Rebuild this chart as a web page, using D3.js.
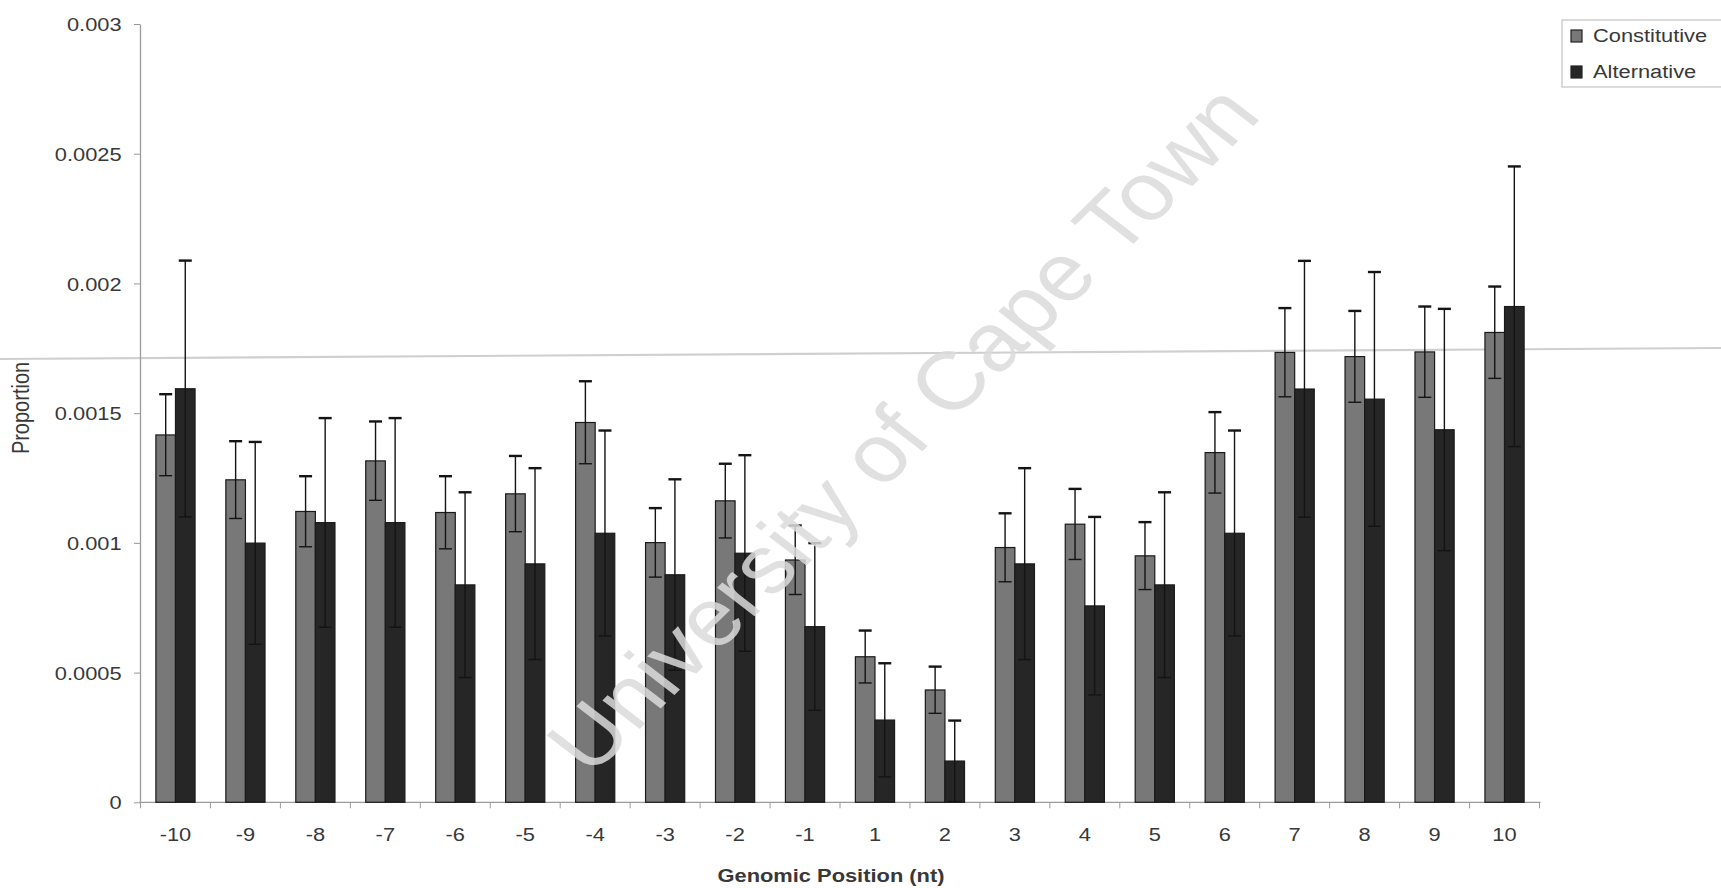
<!DOCTYPE html>
<html>
<head>
<meta charset="utf-8">
<script src="https://cdn.jsdelivr.net/npm/d3@7/dist/d3.min.js"></script>
<style>
  html, body { margin: 0; padding: 0; background: #fff; }
  svg { display: block; }
  text { font-family: "Liberation Sans", Arial, sans-serif; }
</style>
</head>
<body>
<svg id="chart" width="1721" height="888"></svg>
<script>
// Proportion of splice-site variants by genomic position (nt)
const categories = ["-10","-9","-8","-7","-6","-5","-4","-3","-2","-1","1","2","3","4","5","6","7","8","9","10"];
const seriesNames = ["Constitutive", "Alternative"];

const constitutive = [0.001416,0.001243,0.001121,0.001316,0.001117,0.001189,0.001464,0.001001,0.001162,0.000934,
                      0.000561,0.000433,0.000982,0.001072,0.000950,0.001348,0.001734,0.001718,0.001736,0.001811];
const constitutiveErr = [0.000157,0.000149,0.000136,0.000152,0.000140,0.000146,0.000159,0.000133,0.000143,0.000133,
                         0.000101,0.000090,0.000132,0.000136,0.000130,0.000156,0.000171,0.000176,0.000175,0.000177];
const alternative = [0.001594,0.000999,0.001078,0.001078,0.000838,0.000919,0.001037,0.000877,0.000960,0.000677,
                     0.000317,0.000159,0.000919,0.000757,0.000838,0.001037,0.001593,0.001554,0.001436,0.001911];
const alternativeErr = [0.000494,0.000390,0.000403,0.000403,0.000357,0.000369,0.000396,0.000368,0.000378,0.000322,
                        0.000219,0.000156,0.000369,0.000343,0.000357,0.000396,0.000494,0.000490,0.000466,0.000540];

const yTickValues = [0, 0.0005, 0.001, 0.0015, 0.002, 0.0025, 0.003];
const yTickLabels = ["0", "0.0005", "0.001", "0.0015", "0.002", "0.0025", "0.003"];

const yTitle = "Proportion";
const xTitle = "Genomic Position (nt)";
const stampText = "University of Cape Town";

// table built from the arrays above
const rows = categories.map((c, i) => ({
  cat: c,
  values: [
    { key: "Constitutive", v: constitutive[i], e: constitutiveErr[i] },
    { key: "Alternative",  v: alternative[i],  e: alternativeErr[i] }
  ]
}));

const colors = { Constitutive: "#787878", Alternative: "#262626" };
const SX = 1.15;           // horizontal stretch of the lettering
const FS = 19;
const textColor = "#383838";

const svg = d3.select("#chart");
const plotLeft = 140.5, plotRight = 1539.5, plotTop = 24, plotBottom = 802.3;

const x0 = d3.scaleBand().domain(categories).range([plotLeft, plotRight]).padding(0);
const x1 = d3.scaleBand().domain(seriesNames)
  .range([x0.bandwidth() * 0.22, x0.bandwidth() * 0.78]).padding(0);
const y = d3.scaleLinear().domain([0, 0.003]).range([plotBottom, plotTop]);

// faint horizontal streak running across the sheet
svg.append("line")
  .attr("x1", 0).attr("y1", 359).attr("x2", 1721).attr("y2", 348)
  .attr("stroke", "#cfcfcf").attr("stroke-width", 2.2);

// y axis
const yAxis = svg.append("g")
  .attr("transform", `translate(${plotLeft - 0.5},0)`)
  .call(d3.axisLeft(y).tickValues(yTickValues)
    .tickFormat((d, i) => yTickLabels[i]).tickSize(6).tickSizeOuter(0));
yAxis.select(".domain").attr("stroke", "#9a9a9a").attr("stroke-width", 1.3);
yAxis.selectAll(".tick line").attr("stroke", "#9a9a9a");
yAxis.selectAll(".tick text")
  .attr("x", -16).attr("dy", "0.35em")
  .attr("transform", `scale(${SX},1)`)
  .attr("fill", textColor)
  .style("font-size", FS + "px");

// x axis: ticks on category boundaries
const xg = svg.append("g").attr("transform", `translate(0,${plotBottom})`);
xg.append("line").attr("x1", plotLeft - 1).attr("x2", plotRight + 1)
  .attr("stroke", "#9a9a9a").attr("stroke-width", 1.3);
const boundaries = categories.map(c => x0(c)).concat([x0(categories[categories.length - 1]) + x0.bandwidth()]);
xg.selectAll(".bt").data(boundaries).join("line")
  .attr("x1", d => d).attr("x2", d => d).attr("y1", 0).attr("y2", 6)
  .attr("stroke", "#9a9a9a");
xg.selectAll(".lbl").data(categories).join("text")
  .attr("transform", d => `translate(${x0(d) + x0.bandwidth() / 2},39) scale(${SX},1)`)
  .attr("text-anchor", "middle")
  .attr("fill", textColor)
  .style("font-size", FS + "px")
  .text(d => d);

// bars
const groups = svg.append("g").selectAll("g").data(rows).join("g")
  .attr("transform", d => `translate(${x0(d.cat)},0)`);
groups.selectAll("rect").data(d => d.values).join("rect")
  .attr("x", d => x1(d.key))
  .attr("y", d => y(d.v))
  .attr("width", x1.bandwidth())
  .attr("height", d => y(0) - y(d.v))
  .attr("fill", d => colors[d.key])
  .attr("stroke", "#1a1a1a").attr("stroke-width", 1.2);

// error bars
const capW = 13;
const eb = groups.selectAll("g.err").data(d => d.values).join("g").attr("class", "err")
  .attr("stroke", "#141414").attr("stroke-width", 1.4);
eb.append("line")
  .attr("x1", d => x1(d.key) + x1.bandwidth() / 2).attr("x2", d => x1(d.key) + x1.bandwidth() / 2)
  .attr("y1", d => y(d.v + d.e)).attr("y2", d => y(Math.max(0, d.v - d.e)));
eb.append("line")
  .attr("x1", d => x1(d.key) + x1.bandwidth() / 2 - capW / 2).attr("x2", d => x1(d.key) + x1.bandwidth() / 2 + capW / 2)
  .attr("y1", d => y(d.v + d.e)).attr("y2", d => y(d.v + d.e)).attr("stroke-width", 2.4);
eb.append("line")
  .attr("x1", d => x1(d.key) + x1.bandwidth() / 2 - capW / 2).attr("x2", d => x1(d.key) + x1.bandwidth() / 2 + capW / 2)
  .attr("y1", d => y(Math.max(0, d.v - d.e))).attr("y2", d => y(Math.max(0, d.v - d.e)));

// axis titles
svg.append("text")
  .attr("transform", `translate(29,408) scale(${SX},1) rotate(-90)`)
  .attr("text-anchor", "middle")
  .attr("fill", textColor)
  .style("font-size", "20px")
  .text(yTitle);
svg.append("text")
  .attr("transform", `translate(831,882) scale(${SX},1)`)
  .attr("text-anchor", "middle")
  .attr("fill", textColor)
  .style("font-size", "19px").style("font-weight", "bold")
  .text(xTitle);

// legend
const lg = svg.append("g").attr("transform", "translate(1562,20)");
lg.append("rect").attr("x", 0).attr("y", 0).attr("width", 170).attr("height", 67)
  .attr("fill", "#fff").attr("stroke", "#c4c4c4").attr("stroke-width", 1.2);
const li = lg.selectAll("g.item").data(seriesNames).join("g").attr("class", "item")
  .attr("transform", (d, i) => `translate(9,${10 + i * 36})`);
li.append("rect").attr("width", 11).attr("height", 12)
  .attr("fill", d => colors[d]).attr("stroke", "#222").attr("stroke-width", 1.2);
li.append("text")
  .attr("transform", `translate(22,12) scale(${SX},1)`)
  .attr("fill", textColor)
  .style("font-size", FS + "px")
  .text(d => d);

// diagonal stamp across the plot
svg.append("text")
  .attr("transform", `translate(902,428) scale(${SX},1) rotate(-48.5)`)
  .attr("text-anchor", "middle")
  .attr("dy", "0.35em")
  .attr("fill", "#dadada").attr("fill-opacity", 0.85)
  .style("font-size", "82px")
  .text(stampText);
</script>
</body>
</html>
